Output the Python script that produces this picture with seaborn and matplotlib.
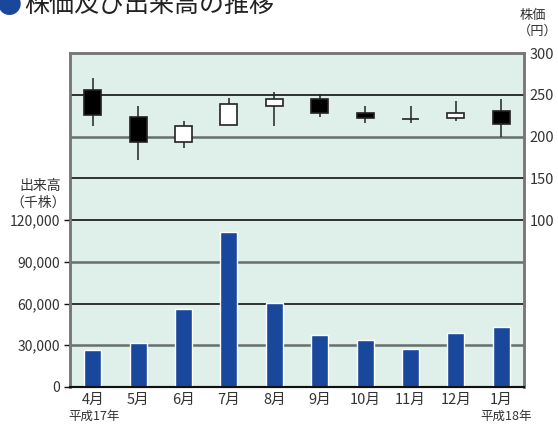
import matplotlib
matplotlib.use("Agg")
import matplotlib.pyplot as plt
import seaborn as sns
import pandas as pd

# months (平成17年4月 - 平成18年1月)
months = ['4月', '5月', '6月', '7月', '8月', '9月', '10月', '11月', '12月', '1月']

# 出来高 (千株)
volume = [26600, 31700, 56200, 111600, 60500, 37400, 33800, 27400, 38900, 43200]

# 株価 (円) - open / high / low / close
open_ = [256, 223, 193, 213.5, 236.5, 245, 228, 221, 222, 231]
high = [270, 237, 219, 246, 253, 251, 236.5, 236.5, 242.5, 245]
low = [212, 172, 186, 213.5, 213, 223, 216, 216, 218.5, 199.5]
close = [225.5, 194, 212, 239, 245, 228, 222.5, 221, 228, 215.5]

sns.set_style("white")
plt.rcParams['font.family'] = ['Noto Sans CJK JP', 'DejaVu Sans']

text_col = '#333333'
bg = '#dff0eb'
blue = '#19479c'

fig = plt.figure(figsize=(5.58, 4.25), dpi=100)
ax = fig.add_axes([70 / 558, 38 / 425, 454 / 558, 334 / 425])
ax.set_facecolor(bg)

df = pd.DataFrame({'month': months, 'volume': volume})
sns.barplot(data=df, x='month', y='volume', color=blue, width=0.375,
            saturation=1, ax=ax, zorder=3)
ax.set_ylim(0, 240000)
ax.set_xlim(-0.5, 9.5)
ax.set_yticks([0, 30000, 60000, 90000, 120000])
ax.set_yticklabels(['0', '30,000', '60,000', '90,000', '120,000'])
ax.set_xlabel('')
ax.set_ylabel('')

# gridlines for volume part
ax.axhline(120000, color='#111111', lw=1.2, zorder=1)
ax.axhline(90000, color='#666f6c', lw=1.8, zorder=1)
ax.axhline(60000, color='#111111', lw=1.2, zorder=1)
ax.axhline(30000, color='#666f6c', lw=1.8, zorder=1)

# price axis
ax2 = ax.twinx()
ax2.set_ylim(-100, 300)
ax2.set_yticks([100, 150, 200, 250, 300])
ax2.axhline(250, color='#111111', lw=1.2, zorder=1)
ax2.axhline(200, color='#666f6c', lw=1.8, zorder=1)
ax2.axhline(150, color='#111111', lw=1.2, zorder=1)

xs = list(range(len(months)))
ax2.vlines(xs, low, high, color='#222222', lw=1.1, zorder=2)
for i in xs:
    o, c = open_[i], close[i]
    fc = 'black' if c < o else 'white'
    ax2.bar(i, abs(c - o), bottom=min(o, c), width=0.375, color=fc,
            edgecolor='#222222', linewidth=1.2, zorder=3)

for a in (ax, ax2):
    for side in ['top', 'right', 'left']:
        a.spines[side].set_color('#777777')
        a.spines[side].set_linewidth(1.8)
    a.spines['bottom'].set_color('#111111')
    a.spines['bottom'].set_linewidth(1.5)

ax.tick_params(axis='y', length=4, width=1, color='#111111', labelsize=10,
               labelcolor=text_col, pad=3, left=True)
ax.tick_params(axis='x', length=0, labelsize=10.5, labelcolor=text_col, pad=4)
ax2.tick_params(axis='y', length=0, labelsize=10.5, labelcolor=text_col, pad=4)

# titles and axis captions
fig.text(-0.005, 1 - 13 / 425, '●', color=blue, fontsize=18, va='baseline')
fig.text(24 / 558, 1 - 12 / 425, '株価及び出来高の推移', color='#222222',
         fontsize=18, va='baseline')
fig.text(40 / 558, 1 - 186 / 425, '出来高', color=text_col, fontsize=10,
         ha='center', va='center')
fig.text(38 / 558, 1 - 203 / 425, '（千株）', color=text_col, fontsize=10,
         ha='center', va='center')
fig.text(533 / 558, 1 - 15 / 425, '株価', color=text_col, fontsize=9.5,
         ha='center', va='center')
fig.text(538 / 558, 1 - 31 / 425, '（円）', color=text_col, fontsize=9.5,
         ha='center', va='center')
fig.text(68 / 558, 1 - 416 / 425, '平成17年', color=text_col, fontsize=9,
         ha='left', va='center')
fig.text(532 / 558, 1 - 416 / 425, '平成18年', color=text_col, fontsize=9,
         ha='right', va='center')

fig.savefig('out.png', dpi=100)
